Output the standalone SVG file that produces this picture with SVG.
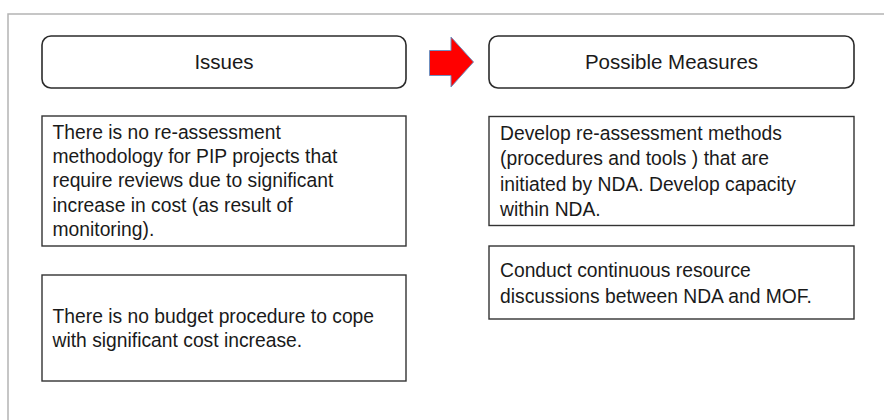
<svg xmlns="http://www.w3.org/2000/svg" width="885" height="420" viewBox="0 0 885 420">
  <style>
    .frame { fill: none; stroke: #b4b4b4; stroke-width: 1.5; }
    .head { fill: #ffffff; stroke: #2b2b2b; stroke-width: 1.6; }
    .box { fill: #ffffff; stroke: #333333; stroke-width: 1.4; }
    .htxt { font-family: "Liberation Sans", Arial, sans-serif; font-size: 20.5px; fill: #1a1a1a; text-anchor: middle; }
    .txt { font-family: "Liberation Sans", Arial, sans-serif; font-size: 19.3px; fill: #1a1a1a; }
    .arrow { fill: #ff0000; stroke: #6f8fbf; stroke-width: 1; }
  </style>
  <rect width="885" height="420" fill="#ffffff"/>

  <!-- page frame: top and left edges -->
  <path class="frame" d="M8,420 V14 H884"/>

  <g id="issues-header">
    <rect class="head" x="42" y="36" width="364" height="52" rx="9"/>
    <text class="htxt" x="224" y="69">Issues</text>
  </g>

  <g id="measures-header">
    <rect class="head" x="489" y="36" width="365" height="52" rx="9"/>
    <text class="htxt" x="671.5" y="69">Possible Measures</text>
  </g>

  <g id="connectors">
    <polygon class="arrow" points="429.5,50.5 451,50.5 451,37 473.5,62 451,87 451,75.5 429.5,75.5"/>
  </g>

  <g id="issue-1">
    <rect class="box" x="42" y="116" width="364" height="130"/>
    <text class="txt">
      <tspan x="52.5" y="138.5">There is no re-assessment</tspan>
      <tspan x="52.5" y="162.8">methodology  for PIP projects that</tspan>
      <tspan x="52.5" y="187.2">require reviews due to significant</tspan>
      <tspan x="52.5" y="211.6">increase in cost (as result of</tspan>
      <tspan x="52.5" y="236">monitoring).</tspan>
    </text>
  </g>

  <g id="issue-2">
    <rect class="box" x="42" y="275" width="364" height="106"/>
    <text class="txt">
      <tspan x="52.5" y="322.7">There is no budget procedure to cope</tspan>
      <tspan x="52.5" y="347">with significant cost increase.</tspan>
    </text>
  </g>

  <g id="measure-1">
    <rect class="box" x="489" y="116.5" width="365" height="109"/>
    <text class="txt">
      <tspan x="500" y="139.5">Develop re-assessment methods</tspan>
      <tspan x="500" y="165">(procedures and tools ) that are</tspan>
      <tspan x="500" y="190.7">initiated by NDA. Develop capacity</tspan>
      <tspan x="500" y="216">within NDA.</tspan>
    </text>
  </g>

  <g id="measure-2">
    <rect class="box" x="489" y="246" width="365" height="73"/>
    <text class="txt">
      <tspan x="500" y="276.7">Conduct continuous resource</tspan>
      <tspan x="500" y="302.7">discussions between NDA and MOF.</tspan>
    </text>
  </g>
</svg>
